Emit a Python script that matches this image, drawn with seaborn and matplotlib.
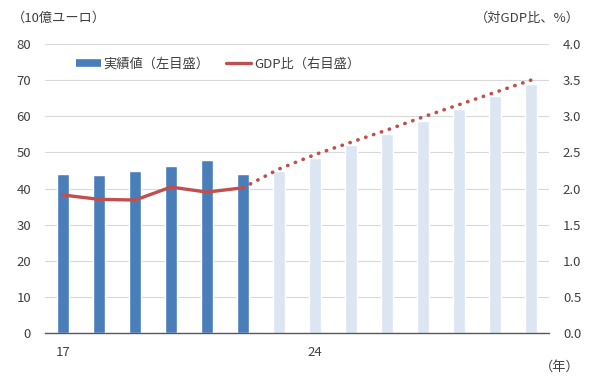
import numpy as np
import pandas as pd
import matplotlib
matplotlib.use("Agg")
import matplotlib.pyplot as plt
from matplotlib.lines import Line2D
import seaborn as sns

# ---- data ----
years = list(range(2017, 2031))
spend = [44.0, 43.6, 44.8, 46.3, 48.0, 44.0, 44.9, 48.4, 52.0, 55.2, 58.7, 62.1, 65.6, 69.0]
kind = ["実績"] * 6 + ["予測"] * 8
gdp_actual = [1.91, 1.85, 1.84, 2.02, 1.95, 2.01]          # 2017-2022
gdp_forecast = [2.01, 2.27, 2.47, 2.64, 2.81, 2.99, 3.16, 3.33, 3.50]  # 2022-2030
xtick_labels = {2017: "17", 2024: "24"}

sns.set_theme(style="white")
plt.rcParams['font.family'] = ['Noto Sans CJK JP', 'DejaVu Sans']

TXT = "#404040"
BLUE = "#4a7ebb"
LIGHT = "#dce6f2"
RED = "#c0504d"
GRID = "#d9d9d9"

df = pd.DataFrame({"year": years, "spend": spend, "kind": kind})
df["pos"] = np.arange(len(df))

fig = plt.figure(figsize=(6.0, 3.91), dpi=100)
ax = fig.add_axes([45/600, 1-333/391, (549-45)/600, (333-44)/391])

sns.barplot(data=df, x="pos", y="spend", hue="kind",
            palette={"実績": BLUE, "予測": LIGHT}, dodge=False,
            width=0.31, ax=ax, legend=False, native_scale=True, saturation=1)

ax.set_xlim(-0.5, len(years) - 0.5)
ax.set_ylim(0, 80)
ax.set_yticks(np.arange(0, 81, 10))
ax.yaxis.grid(True, color=GRID, lw=0.8)
ax.set_axisbelow(True)
for s in ["left", "right", "top"]:
    ax.spines[s].set_visible(False)
ax.spines["bottom"].set_color("#595959")
ax.spines["bottom"].set_linewidth(1.0)
ax.set_xlabel("")
ax.set_ylabel("")

pos_map = dict(zip(years, df["pos"]))
ax.set_xticks([pos_map[y] for y in xtick_labels])
ax.set_xticklabels(list(xtick_labels.values()))
ax.set_xticks(np.arange(-0.5, len(years)), minor=True)
ax.tick_params(axis="x", which="major", length=0, pad=9, labelsize=9.5, labelcolor=TXT)
ax.tick_params(axis="x", which="minor", direction="in", length=3.5, width=0.9, color="#595959")
ax.tick_params(axis="y", length=0, pad=10, labelsize=9.5, labelcolor=TXT)

ax2 = ax.twinx()
ax2.set_ylim(0, 4.0)
ax2.set_yticks(np.arange(0, 4.01, 0.5))
ax2.set_yticklabels([f"{v:.1f}" for v in np.arange(0, 4.01, 0.5)])
ax2.tick_params(axis="y", length=0, pad=10, labelsize=9.5, labelcolor=TXT)
for s in ax2.spines.values():
    s.set_visible(False)

act_pos = df["pos"].iloc[:len(gdp_actual)].to_numpy()
fc_pos = df["pos"].iloc[len(gdp_actual) - 1:].to_numpy()
sns.lineplot(x=act_pos, y=gdp_actual, color=RED, lw=2.4, ax=ax2)
ax2.plot(fc_pos, gdp_forecast, color=RED, lw=2.6, linestyle=(0, (0.1, 2.2)),
         dash_capstyle="round")
ax2.set_xlim(-0.5, len(years) - 0.5)
ax2.set_ylabel("")

handles = [Line2D([], [], color=BLUE, lw=5.5, solid_capstyle="butt"),
           Line2D([], [], color=RED, lw=2.4)]
ax.legend(handles, ["実績値（左目盛）", "GDP比（右目盛）"], ncol=2, frameon=False,
          loc="upper left", bbox_to_anchor=(0.037, 0.995), fontsize=9.5,
          handlelength=1.9, handletextpad=0.2, columnspacing=1.3, labelcolor=TXT)

fig.text(12/600, 1-18/391, "（10億ユーロ）", fontsize=9.5, color=TXT, ha="left", va="center")
fig.text(580/600, 1-18/391, "（対GDP比、%）", fontsize=9.5, color=TXT, ha="right", va="center")
fig.text(580/600, 1-367/391, "（年）", fontsize=9.5, color=TXT, ha="right", va="center")

fig.savefig("out.png", dpi=100)
